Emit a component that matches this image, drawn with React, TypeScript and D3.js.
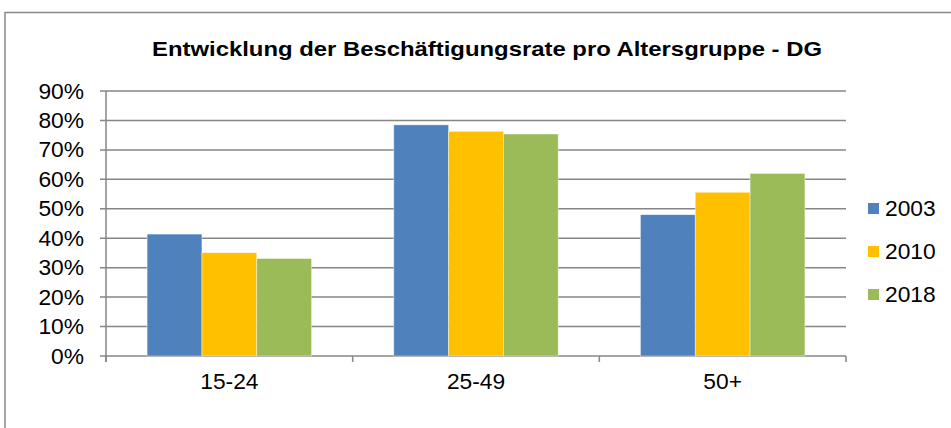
import React from "react";
import * as d3 from "d3";

const categories = ["15-24", "25-49", "50+"];
const seriesNames = ["2003", "2010", "2018"];
const values2003 = [41.4, 78.5, 48.0];
const values2010 = [35.1, 76.3, 55.6];
const values2018 = [33.1, 75.4, 62.0];
const yTicks = [0, 10, 20, 30, 40, 50, 60, 70, 80, 90];
const colors = ["#4F81BD", "#FFC000", "#9BBB59"];
const title = "Entwicklung der Beschäftigungsrate pro Altersgruppe - DG";

export default function App() {
  const W = 951, H = 428;
  const left = 106, right = 846, top = 91, bottom = 356;
  const series = [values2003, values2010, values2018];
  const x = d3.scaleBand<string>().domain(categories).range([left, right]).paddingInner(0).paddingOuter(0);
  const y = d3.scaleLinear().domain([0, 90]).range([bottom, top]);
  const bw = x.bandwidth();
  const barW = bw / (3 + 1.5);
  const font = "'Liberation Sans', Arial, sans-serif";
  const grid = "#868686";
  const sx = 1.06;
  const fs = 21.5;
  return (
    <div style={{ position: "absolute", left: 0, top: 0 }}>
      <svg width={W} height={H} style={{ display: "block", background: "#fff" }}>
        <rect x={5} y={12.5} width={1000} height={500} fill="#fff" stroke="#888" strokeWidth={1.5} />
        <text x={487} y={56} fontFamily={font} fontWeight="bold" fontSize={21} textAnchor="middle"
          textLength={670} lengthAdjust="spacingAndGlyphs">{title}</text>
        {yTicks.map((t) => (
          <g key={t}>
            <line x1={left - 6} x2={right} y1={y(t)} y2={y(t)} stroke={grid} strokeWidth={1.5} />
            <text transform={`translate(${left - 22},${y(t) + 7.5}) scale(${sx},1)`} fontFamily={font} fontSize={fs} textAnchor="end">{t}%</text>
          </g>
        ))}
        <line x1={left} x2={left} y1={top} y2={bottom + 6} stroke={grid} strokeWidth={1.5} />
        {[...categories.map((c) => x(c) as number), right].map((v, i) => (
          <line key={i} x1={v} x2={v} y1={bottom} y2={bottom + 6} stroke={grid} strokeWidth={1.5} />
        ))}
        {categories.map((c, ci) => (
          <g key={c}>
            {series.map((s, si) => {
              const x0 = (x(c) as number) + barW * 0.75 + si * barW;
              return (
                <rect key={si} x={x0} y={y(s[ci])} width={barW} height={bottom - y(s[ci])}
                  fill={colors[si]} stroke="#ffffff" strokeOpacity={0.5} strokeWidth={0.8} />
              );
            })}
            <text transform={`translate(${(x(c) as number) + bw / 2},${389}) scale(${sx},1)`} fontFamily={font} fontSize={fs} textAnchor="middle">{c}</text>
          </g>
        ))}
        {seriesNames.map((n, i) => (
          <g key={n}>
            <rect x={868} y={203 + i * 43} width={11} height={11} fill={colors[i]} />
            <text transform={`translate(885,${216 + i * 43}) scale(${sx},1)`} fontFamily={font} fontSize={fs}>{n}</text>
          </g>
        ))}
      </svg>
    </div>
  );
}
